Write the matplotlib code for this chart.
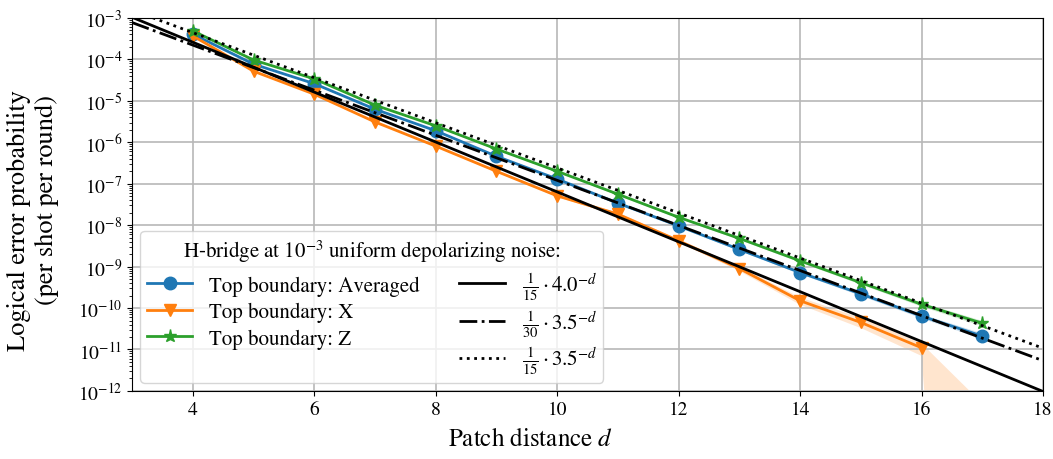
import numpy as np
import matplotlib
matplotlib.use("Agg")
import matplotlib.pyplot as plt

plt.rcParams['font.family'] = ['STIXGeneral', 'DejaVu Serif']
plt.rcParams['mathtext.fontset'] = 'stix'

distances = [4, 5, 6, 7, 8, 9, 10, 11, 12, 13, 14, 15, 16, 17]
p_avg = [4.1e-4, 7.7e-5, 2.6e-5, 6.3e-6, 1.9e-6, 4.6e-7, 1.3e-7, 3.4e-8, 9.6e-9, 2.6e-9, 7.2e-10, 2.2e-10, 6.4e-11, 2.1e-11]
p_x = [3.7e-4, 5.2e-5, 1.45e-5, 3.1e-6, 8.1e-7, 2.0e-7, 5.1e-8, 1.85e-8, 4.2e-9, 9.0e-10, 1.5e-10, 4.5e-11, 1.1e-11, np.nan]
p_z = [4.9e-4, 9.7e-5, 3.4e-5, 7.9e-6, 2.5e-6, 6.9e-7, 2.0e-7, 5.6e-8, 1.55e-8, 4.8e-9, 1.38e-9, 4.1e-10, 1.23e-10, 4.3e-11]

# uncertainty bands (estimated)
avg_lo = [4.0e-4, 7.5e-5, 2.55e-5, 6.1e-6, 1.85e-6, 4.45e-7, 1.25e-7, 3.25e-8, 9.1e-9, 2.45e-9, 6.7e-10, 2.0e-10, 5.7e-11, 1.8e-11]
avg_hi = [4.2e-4, 7.9e-5, 2.65e-5, 6.5e-6, 1.95e-6, 4.75e-7, 1.35e-7, 3.55e-8, 1.01e-8, 2.75e-9, 7.7e-10, 2.4e-10, 7.2e-11, 2.5e-11]
x_lo = [3.6e-4, 5.05e-5, 1.4e-5, 3.0e-6, 7.8e-7, 1.9e-7, 4.8e-8, 1.7e-8, 3.8e-9, 7.8e-10, 1.2e-10, 3.3e-11, 7e-12, 1e-30]
x_hi = [3.8e-4, 5.35e-5, 1.5e-5, 3.2e-6, 8.4e-7, 2.1e-7, 5.4e-8, 2.0e-8, 4.6e-9, 1.0e-9, 1.8e-10, 5.8e-11, 1.4e-11, 5e-13]
z_lo = [4.8e-4, 9.5e-5, 3.3e-5, 7.7e-6, 2.42e-6, 6.6e-7, 1.92e-7, 5.3e-8, 1.47e-8, 4.5e-9, 1.28e-9, 3.75e-10, 1.1e-10, 3.7e-11]
z_hi = [5.0e-4, 9.9e-5, 3.5e-5, 8.1e-6, 2.58e-6, 7.2e-7, 2.08e-7, 5.9e-8, 1.63e-8, 5.1e-9, 1.48e-9, 4.5e-10, 1.38e-10, 5.0e-11]

fit_d = [3, 18]
fit_coef = [1/15, 1/30, 1/15]
fit_base = [4.0, 3.5, 3.5]
fit_labels = [r'$\frac{1}{15}\cdot 4.0^{-d}$', r'$\frac{1}{30}\cdot 3.5^{-d}$', r'$\frac{1}{15}\cdot 3.5^{-d}$']
fit_styles = ['-', '-.', ':']

fig = plt.figure(figsize=(10.53, 4.6), dpi=100)
ax = fig.add_axes([0.1254, 0.148, 0.8651, 0.8107])

colors = ['#1f77b4', '#ff7f0e', '#2ca02c']
series = [(p_avg, avg_lo, avg_hi, 'o', 'Top boundary: Averaged', 9),
          (p_x, x_lo, x_hi, 'v', 'Top boundary: X', 9),
          (p_z, z_lo, z_hi, '*', 'Top boundary: Z', 9.5)]
handles = []
for (vals, lo, hi, mk, lab, ms), c in zip(series, colors):
    ax.fill_between(distances, lo, hi, color=c, alpha=0.2, linewidth=0)
    h, = ax.plot(distances, vals, marker=mk, color=c, lw=2, ms=ms, label=lab, zorder=3)
    handles.append(h)

dd = np.linspace(fit_d[0], fit_d[1], 200)
for coef, base, lab, ls in zip(fit_coef, fit_base, fit_labels, fit_styles):
    h, = ax.plot(dd, coef * base ** (-dd), color='black', ls=ls, lw=2, label=lab, zorder=4)
    handles.append(h)

ax.set_yscale('log')
ax.set_xlim(3, 18)
ax.set_ylim(1e-12, 1e-3)
ax.set_xticks([4, 6, 8, 10, 12, 14, 16, 18])
ax.set_yticks([10.0 ** e for e in range(-12, -2)])
ax.grid(True, which='major', color='#b8b8b8', lw=1.2)
ax.tick_params(labelsize=14)

W, H = 1053.0, 460.0
fig.text(531 / W, 1 - 440 / H, r'Patch distance $d$', fontsize=18, ha='center', va='center')
fig.text(19 / W, 1 - 221 / H, 'Logical error probability', fontsize=19, rotation=90, ha='center', va='center')
fig.text(47 / W, 1 - 200 / H, '(per shot per round)', fontsize=19, rotation=90, ha='center', va='center')

leg = ax.legend(handles=handles, ncol=2, loc='lower left', fontsize=15,
                title=r'H-bridge at $10^{-3}$ uniform depolarizing noise:', title_fontsize=15,
                framealpha=0.8, labelspacing=0.3, columnspacing=1.9, handlelength=2.2,
                borderaxespad=0.4, borderpad=0.3)
fig.savefig('out.png', dpi=100)
